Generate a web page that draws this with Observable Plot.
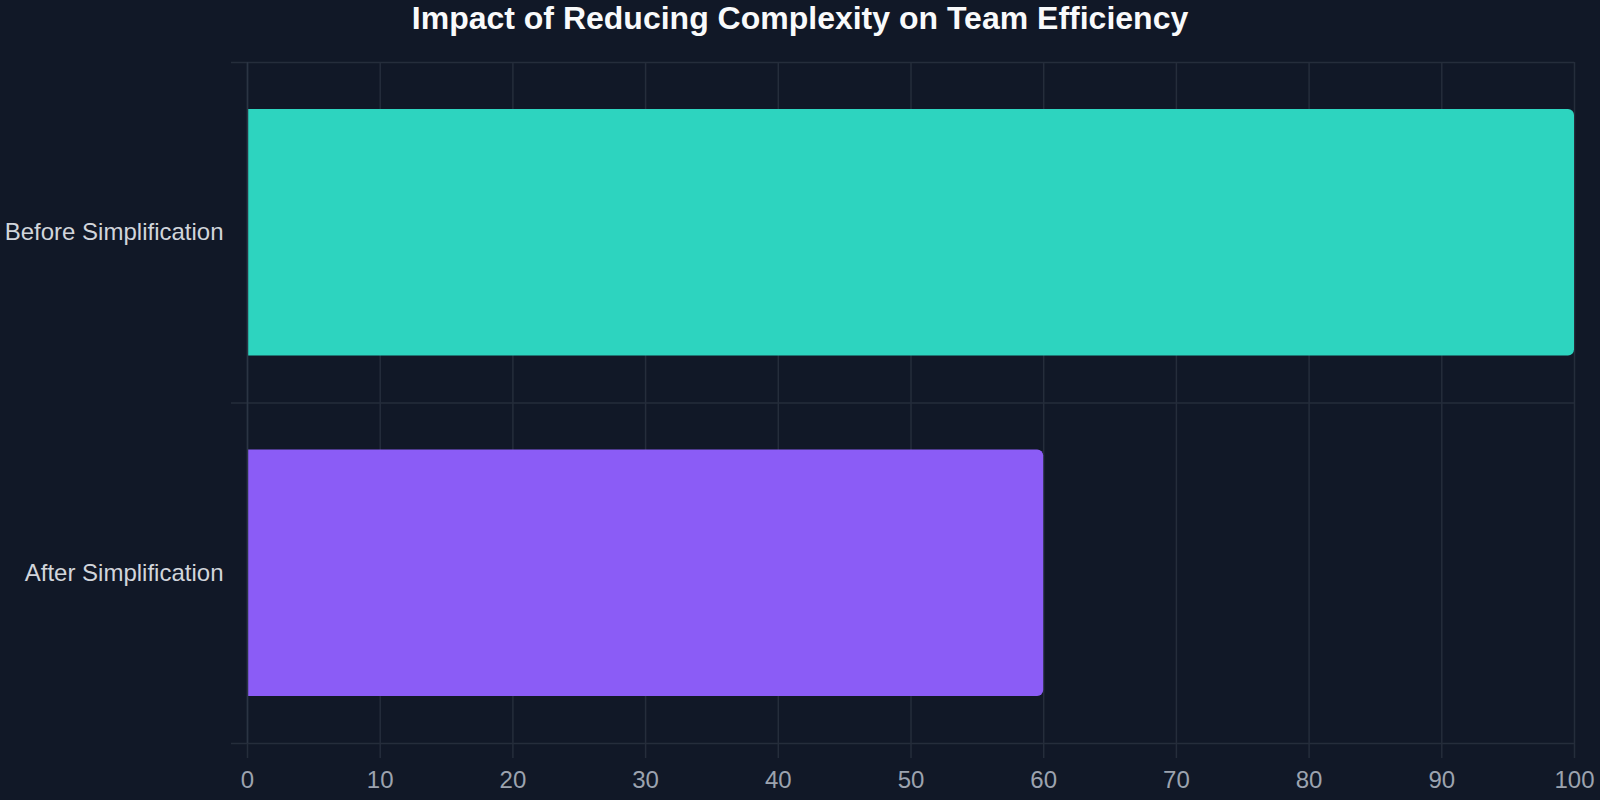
<!DOCTYPE html>
<html>
<head>
<meta charset="utf-8">
<script src="https://cdn.jsdelivr.net/npm/d3@7"></script>
<script src="https://cdn.jsdelivr.net/npm/@observablehq/plot@0.6"></script>
<style>
  html, body { margin: 0; padding: 0; background: #111827; overflow: hidden; }
  #title { height: 36px; line-height: 36px; text-align: center; color: #f9fafb;
           font: bold 32px "Liberation Sans", Arial, sans-serif; white-space: nowrap; }
  #chart svg { display: block; }
</style>
</head>
<body>
<div id="title">Impact of Reducing Complexity on Team Efficiency</div>
<div id="chart"></div>
<script>
const categories = ["Before Simplification", "After Simplification"];
const values = [100, 60];
const colors = ["#2dd4bf", "#8b5cf6"];
const xTicks = [0, 10, 20, 30, 40, 50, 60, 70, 80, 90, 100];

const data = categories.map((c, i) => ({category: c, value: values[i], i, color: colors[i]}));
const bounds = d3.range(categories.length + 1);
const centers = categories.map((c, i) => i + 0.5);

const gridColor = "#252d3b";

const chart = Plot.plot({
  width: 1600,
  height: 764,
  marginTop: 26,
  marginBottom: 57,
  marginLeft: 247,
  marginRight: 26,
  style: {background: "#111827", color: "#d1d5db", fontFamily: "'Liberation Sans', Arial, sans-serif", fontSize: "24px"},
  x: {domain: [0, 100], label: null},
  y: {domain: [0, categories.length], reverse: true, label: null},
  marks: [
    Plot.gridX(xTicks, {stroke: gridColor, strokeOpacity: 1, strokeWidth: 1.5}),
    Plot.gridY(bounds, {stroke: gridColor, strokeOpacity: 1, strokeWidth: 1.5}),
    Plot.axisX(xTicks, {tickSize: 15, tickPadding: 12, stroke: gridColor, strokeWidth: 1.5, fill: "#9ca3af", fontSize: 24, label: null}),
    Plot.axisY(bounds, {tickSize: 16, tickFormat: () => "", stroke: gridColor, strokeWidth: 1.5, label: null}),
    Plot.axisY(centers, {tickSize: 0, tickPadding: 24, tickFormat: v => categories[Math.floor(v)], fill: "#d1d5db", fontSize: 24, label: null}),
    Plot.rectX(data, {
      x1: 0, x2: "value", y1: "i", y2: d => d.i + 1,
      insetTop: 47, insetBottom: 47, fill: "color", rx2: 6
    }),
    Plot.ruleX([0], {stroke: "#2b3443", strokeWidth: 1.5})
  ]
});
document.getElementById("chart").appendChild(chart);
</script>
</body>
</html>
